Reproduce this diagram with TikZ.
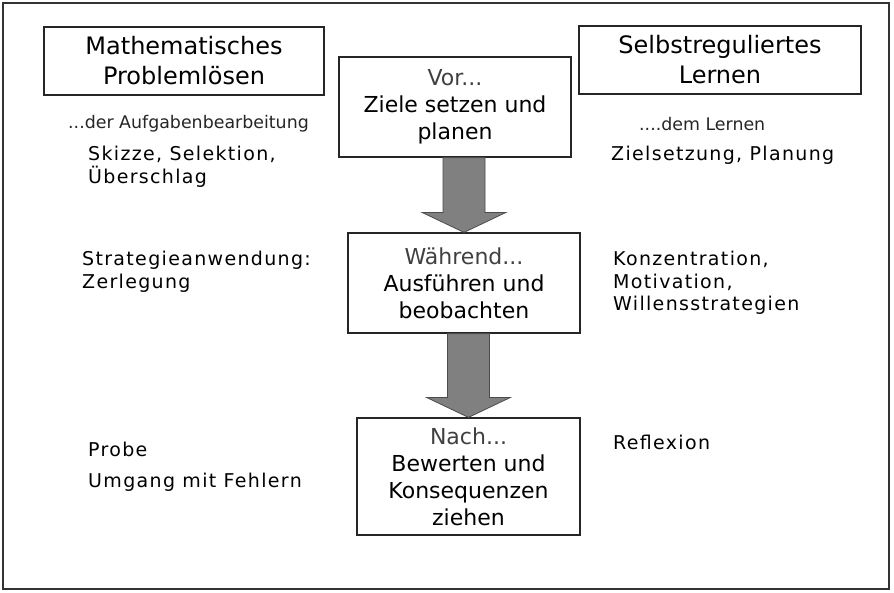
\documentclass[tikz,border=0pt]{standalone}
\usepackage{fontspec}
\setmainfont{DejaVu Sans}
\newfontfamily\weit[LetterSpace=7]{DejaVu Sans}
\usetikzlibrary{calc}

\begin{document}
\begin{tikzpicture}[x=1pt,y=1pt,
    titel/.style={draw=black!85,line width=1.2pt,minimum width=280pt,minimum height=68pt,inner sep=0pt,align=center,font=\fontsize{24}{30}\selectfont},
    phase/.style={draw=black!85,line width=1.2pt,minimum width=232pt,minimum height=100pt,inner sep=0pt,align=center,font=\fontsize{22}{27}\selectfont},
    kopf/.style={inner sep=0pt,anchor=west,font=\fontsize{17.4}{20}\selectfont,text=black!85},
    liste/.style={inner sep=0pt,anchor=west,align=left,font=\weit\fontsize{19}{22.5}\selectfont},
    pfeil/.style={draw=black!70,fill=black!50,line width=0.8pt,line join=miter}]
  \useasboundingbox (0,0) rectangle (894,-592);
  \draw[black!80,line width=2pt] (3,-3) rectangle (889,-589);
  % Ueberschriften
  \node[titel] (mathe) at (184,-61) {Mathematisches\\Problemlösen};
  \node[titel,minimum width=282pt] (selbst) at (720,-60) {Selbstreguliertes\\Lernen};
  % Phasen
  \node[phase] (vor) at (455,-107) {\textcolor{black!75}{Vor...}\\Ziele setzen und\\planen};
  \node[phase] (waehrend) at (464,-283) {\textcolor{black!75}{Während...}\\Ausführen und\\beobachten};
  \node[phase,minimum width=223pt,minimum height=117pt] (nach) at (468.5,-476.5)
    {\textcolor{black!75}{Nach...}\\Bewerten und\\Konsequenzen\\ziehen};
  \foreach \a/\b in {vor/waehrend,waehrend/nach} {
    \coordinate (l) at ($(\b.north)+(-21,20)$);
    \coordinate (r) at ($(\b.north)+(21,20)$);
    \draw[pfeil] (l |- \a.south) -- (l) -- ++(-21,0) -- (\b.north)
      -- ($(r)+(21,0)$) -- (r) -- (r |- \a.south) -- cycle;
  }
  % links
  \node[kopf] (aufg) at (68,-124) {...der Aufgabenbearbeitung};
  \node[liste] (skizze) at (88,-167) {Skizze, Selektion,\\Überschlag};
  \node[liste] (strat) at (82,-272) {Strategieanwendung:\\Zerlegung};
  \node[liste] (probe) at (88,-449) {Probe};
  \node[liste] (fehler) at (88,-482) {Umgang mit Fehlern};
  % rechts
  \node[kopf] (lernen) at (639,-124) {....dem Lernen};
  \node[liste] (ziel) at (611,-155) {Zielsetzung, Planung};
  \node[liste] (konz) at (613,-283) {Konzentration,\\Motivation,\\Willensstrategien};
  \node[liste] (refl) at (613,-442) {Reflexion};
\end{tikzpicture}
\end{document}
